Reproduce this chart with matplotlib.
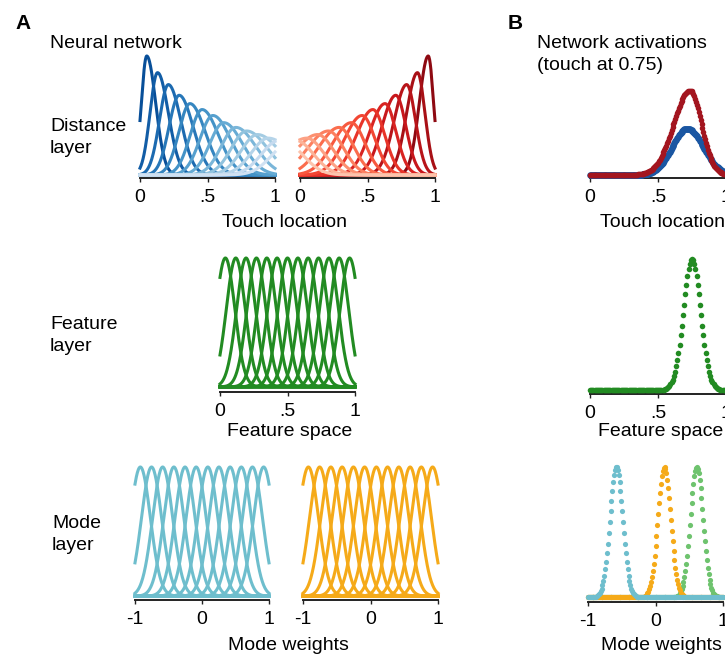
import numpy as np
import matplotlib
matplotlib.use("Agg")
import matplotlib.pyplot as plt
import matplotlib.cm as cm

plt.rcParams['font.family'] = ['Liberation Sans', 'DejaVu Sans']
plt.rcParams['font.size'] = 14

# ---- data ----
# distance layer (blue counts from the left end, red is the mirror from the right end)
dist_centers = [0.05, 0.13, 0.21, 0.29, 0.37, 0.46, 0.54, 0.62, 0.71, 0.79, 0.87, 0.95, 1.03, 1.11]
dist_peaks = [1.0, 0.86, 0.76, 0.67, 0.60, 0.55, 0.50, 0.44, 0.40, 0.37, 0.34, 0.31, 0.29, 0.27]
dist_sd_left = [0.04, 0.056, 0.066, 0.075, 0.082, 0.089, 0.096, 0.102, 0.108, 0.114, 0.12, 0.125, 0.13, 0.135]
dist_sd_right = [0.066, 0.08, 0.092, 0.103, 0.113, 0.122, 0.13, 0.138, 0.146, 0.154, 0.161, 0.168, 0.175, 0.18]

# feature layer
feat_centers = [0.04, 0.117, 0.193, 0.27, 0.347, 0.423, 0.5, 0.577, 0.653, 0.73, 0.807, 0.883, 0.96]
feat_sd = 0.07

# mode layer (same tuning for both modes)
mode_centers = [-0.92, -0.753, -0.587, -0.42, -0.253, -0.087, 0.087, 0.253, 0.42, 0.587, 0.753, 0.92]
mode_sd = 0.15

# network activations for a touch at 0.75
act_blue = dict(center=0.715, peak=0.39, sd_left=0.11, sd_right=0.118)
act_red = dict(center=0.735, peak=0.71, sd_left=0.12, sd_right=0.085)
act_feat = dict(center=0.75, peak=1.0, sd=0.063)
act_mode_centers = [0.61, 0.13, -0.58]   # green, orange, cyan (drawing order)
act_mode_peaks = [1.0, 1.0, 1.0]
act_mode_sd = 0.095

tick_01 = [0, 0.5, 1]
tick_01_labels = ['0', '.5', '1']
tick_mode = [-1, 0, 1]
tick_mode_labels = ['-1', '0', '1']

# colours
c_green = '#228b22'
c_cyan = '#6ebecd'
c_orange = '#f5aa19'
c_lgreen = '#6ec36e'
c_blue = '#1a56a2'
c_red = '#a3151f'

W, H = 725, 656
fig = plt.figure(figsize=(W / 100, H / 100), dpi=100)


def box(left, right, bottom, top):
    # pixel box -> figure fraction
    return [left / W, 1 - bottom / H, (right - left) / W, (bottom - top) / H]


def ftext(x, y, s, **kw):
    fig.text(x / W, 1 - y / H, s, **kw)


def gauss(x, c, sd_l, sd_r=None):
    if sd_r is None:
        sd_r = sd_l
    sd = np.where(x < c, sd_l, sd_r)
    return np.exp(-(x - c) ** 2 / (2 * sd ** 2))


def style(ax, ticks, labels, xlim, ylim):
    for s in ('left', 'top', 'right'):
        ax.spines[s].set_visible(False)
    ax.spines['bottom'].set_linewidth(1.4)
    ax.spines['bottom'].set_color('#222222')
    ax.set_yticks([])
    ax.set_xticks(ticks)
    ax.set_xticklabels(labels)
    ax.tick_params(axis='x', length=3, width=1, pad=5, labelsize=14, color='#222222')
    ax.set_xlim(*xlim)
    ax.set_ylim(*ylim)
    ax.patch.set_visible(False)


x01 = np.linspace(0, 1, 400)
xm = np.linspace(-1, 1, 400)
lw = 2.2

# ---- A: distance layer ----
n = len(dist_centers)
blues = [cm.Blues(v) for v in np.linspace(0.88, 0.2, n)]
reds = [cm.Reds(v) for v in np.linspace(0.92, 0.22, n)]

ax_b = fig.add_axes(box(140, 275, 178, 56))
ax_r = fig.add_axes(box(300, 435, 178, 56))
for i in range(n):
    y = dist_peaks[i] * gauss(x01, dist_centers[i], dist_sd_left[i], dist_sd_right[i])
    ax_b.plot(x01, y, color=blues[i], lw=lw, clip_on=False)
    ax_r.plot(1 - x01, y, color=reds[i], lw=lw, clip_on=False)
style(ax_b, tick_01, tick_01_labels, (0, 1), (-0.025, 1))
style(ax_r, tick_01, tick_01_labels, (0, 1), (-0.025, 1))

# ---- A: feature layer ----
ax_f = fig.add_axes(box(220, 355, 392, 258))
for c in feat_centers:
    ax_f.plot(x01, gauss(x01, c, feat_sd), color=c_green, lw=lw, clip_on=False)
style(ax_f, tick_01, tick_01_labels, (0, 1), (-0.04, 1))

# ---- A: mode layer ----
ax_m1 = fig.add_axes(box(135, 269, 600, 467))
ax_m2 = fig.add_axes(box(303, 438, 600, 467))
for c in mode_centers:
    ax_m1.plot(xm, gauss(xm, c, mode_sd), color=c_cyan, lw=lw, clip_on=False)
    ax_m2.plot(xm, gauss(xm, c, mode_sd), color=c_orange, lw=lw, clip_on=False)
style(ax_m1, tick_mode, tick_mode_labels, (-1, 1), (-0.03, 1))
style(ax_m2, tick_mode, tick_mode_labels, (-1, 1), (-0.03, 1))

# ---- B: activations ----
xd = np.linspace(0, 1, 151)
ax_bt = fig.add_axes(box(590, 726, 178, 56))
yb = act_blue['peak'] * gauss(xd, act_blue['center'], act_blue['sd_left'], act_blue['sd_right'])
yr = act_red['peak'] * gauss(xd, act_red['center'], act_red['sd_left'], act_red['sd_right'])
ax_bt.scatter(xd, yb, s=22, color=c_blue, lw=0, clip_on=False, zorder=3)
ax_bt.scatter(xd, yr, s=16, color=c_red, lw=0, clip_on=False, zorder=4)
style(ax_bt, tick_01, tick_01_labels, (0, 1), (-0.025, 1))

xf = np.linspace(0, 1, 121)
ax_bf = fig.add_axes(box(590, 726, 394, 259))
yf = act_feat['peak'] * gauss(xf, act_feat['center'], act_feat['sd'])
ax_bf.scatter(xf, yf, s=16, color=c_green, lw=0, clip_on=False, zorder=3)
style(ax_bf, tick_01, tick_01_labels, (0, 1), (-0.03, 1))

xmd = np.linspace(-1, 1, 151)
ax_bm = fig.add_axes(box(588, 723, 602, 467))
for c, p, col in zip(act_mode_centers, act_mode_peaks, [c_lgreen, c_orange, c_cyan]):
    ax_bm.scatter(xmd, p * gauss(xmd, c, act_mode_sd), s=14, color=col, lw=0, clip_on=False, zorder=3)
style(ax_bm, tick_mode, tick_mode_labels, (-1, 1), (-0.035, 1))

# ---- text (va='baseline' sits on the last line) ----
ls = 1.4
ftext(15, 29, 'A', fontsize=15, fontweight='bold')
ftext(508, 29, 'B', fontsize=15, fontweight='bold')
ftext(50, 48, 'Neural network', va='baseline')
ftext(50, 153, 'Distance\nlayer', va='baseline', linespacing=ls)
ftext(50, 351, 'Feature\nlayer', va='baseline', linespacing=ls)
ftext(52, 550, 'Mode\nlayer', va='baseline', linespacing=ls)
ftext(537, 70, 'Network activations\n(touch at 0.75)', va='baseline', linespacing=ls)

ftext(284, 227, 'Touch location', ha='center', va='baseline')
ftext(290, 436, 'Feature space', ha='center', va='baseline')
ftext(288, 650, 'Mode weights', ha='center', va='baseline')
ftext(662, 227, 'Touch location', ha='center', va='baseline')
ftext(661, 436, 'Feature space', ha='center', va='baseline')
ftext(661, 650, 'Mode weights', ha='center', va='baseline')

fig.savefig('out.png', dpi=100)
